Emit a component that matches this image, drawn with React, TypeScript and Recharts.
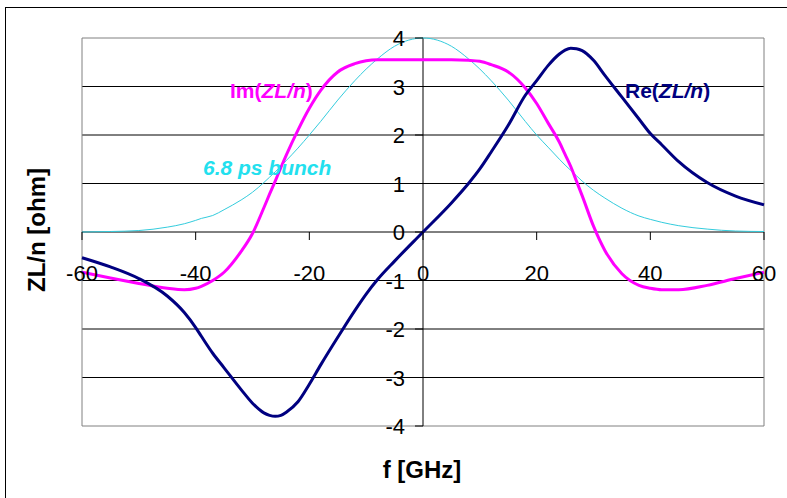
import { LineChart, Line, XAxis, YAxis, CartesianGrid, ReferenceLine, ReferenceArea } from 'recharts';

document.body.style.margin = '0';

// frequency grid [GHz]
const freq = [
  -60, -55, -50, -45, -42, -40, -39, -37, -35, -32, -30, -28, -27, -26, -25, -24, -22, -20, -18, -15, -12, -10, -8, -5, 0,
  5, 8, 10, 12, 15, 18, 20, 22, 24, 25, 26, 27, 28, 30, 32, 35, 38, 40, 42, 45, 50, 55, 60,
];

// Re(ZL/n) [ohm]
const reZ = [
  -0.53, -0.72, -0.96, -1.32, -1.66, -1.97, -2.15, -2.5, -2.8, -3.25, -3.53, -3.73, -3.78, -3.8, -3.78, -3.71, -3.5, -3.14, -2.74, -2.17, -1.62, -1.28, -0.98, -0.6, 0,
  0.6, 1.0, 1.3, 1.65, 2.2, 2.82, 3.12, 3.43, 3.67, 3.75, 3.79, 3.78, 3.74, 3.54, 3.23, 2.78, 2.33, 2.03, 1.8, 1.45, 1.02, 0.74, 0.56,
];

// Im(ZL/n) [ohm]
const imZ = [
  -0.83, -0.95, -1.06, -1.16, -1.19, -1.16, -1.12, -1.0, -0.83, -0.4, -0.03, 0.5, 0.78, 1.05, 1.33, 1.6, 2.1, 2.55, 2.92, 3.3, 3.47, 3.53, 3.55, 3.55, 3.55,
  3.55, 3.54, 3.52, 3.45, 3.3, 2.97, 2.65, 2.25, 1.85, 1.6, 1.35, 1.05, 0.75, 0.12, -0.38, -0.86, -1.1, -1.16, -1.19, -1.19, -1.1, -0.96, -0.83,
];

// 6.8 ps bunch spectrum (arb. units)
const bunch = [
  0, 0.01, 0.03, 0.1, 0.17, 0.24, 0.28, 0.34, 0.46, 0.66, 0.82, 1.02, 1.13, 1.24, 1.36, 1.48, 1.73, 2.0, 2.28, 2.72, 3.12, 3.36, 3.57, 3.83, 4.0,
  3.83, 3.57, 3.36, 3.12, 2.72, 2.28, 2.0, 1.75, 1.5, 1.38, 1.27, 1.16, 1.05, 0.86, 0.7, 0.49, 0.33, 0.26, 0.2, 0.13, 0.06, 0.02, 0.01,
];

const xTicks = [-60, -40, -20, 0, 20, 40, 60];
const yTicks = [-4, -3, -2, -1, 0, 1, 2, 3, 4];
const gridValues = [-3, -2, -1, 1, 2, 3];

const rows = freq.map((f, i) => ({ f, re: reZ[i], im: imZ[i], bunch: bunch[i] }));

const W = 787;
const H = 498;
const X_AXIS_H = 30;
const Y_AXIS_W = 60;
// plot box: left 82, right 764, top 38, bottom 426
const M = { top: 38, right: 23, bottom: 72 - X_AXIS_H, left: 82 - Y_AXIS_W };
// axes cross in the middle of the plot (f = 0, ZL/n = 0)
const axisY = 38 + (426 - 38) / 2;
const axisX = 82 + (764 - 82) / 2;

const FONT = "Arial, 'Liberation Sans', Helvetica, sans-serif";

const freqTick = (props: any) => {
  const { x, payload } = props;
  return (
    <g key={`ft-${payload.value}`}>
      <line x1={x} x2={x} y1={axisY} y2={axisY + 8} stroke="#000" />
      <text x={x} y={axisY + 49} textAnchor="middle" fontSize={22} fontFamily={FONT} fill="#000">
        {payload.value}
      </text>
    </g>
  );
};

const ohmTick = (props: any) => {
  const { y, payload } = props;
  return (
    <g key={`ot-${payload.value}`}>
      <line x1={axisX - 8} x2={axisX} y1={y} y2={y} stroke="#000" />
      <text x={axisX - 18} y={y + 8} textAnchor="end" fontSize={22} fontFamily={FONT} fill="#000">
        {payload.value}
      </text>
    </g>
  );
};

export default function App() {
  return (
    <div style={{ position: 'relative', width: W, height: H, overflow: 'hidden', background: '#fff' }}>
      {/* outer chart frame */}
      <div
        style={{
          position: 'absolute',
          left: 5,
          top: 7,
          width: 820,
          height: 520,
          border: '1.5px solid #000',
        }}
      />
      <LineChart width={W} height={H} data={rows} margin={M} style={{ position: 'absolute', left: 0, top: 0 }}>
        <CartesianGrid vertical={false} horizontalValues={gridValues} stroke="#000" strokeOpacity={1} />
        <ReferenceArea x1={-60} x2={60} y1={-4} y2={4} fill="none" stroke="#808080" strokeWidth={1} />
        <XAxis
          dataKey="f"
          type="number"
          domain={[-60, 60]}
          ticks={xTicks}
          interval={0}
          axisLine={false}
          tickLine={false}
          height={X_AXIS_H}
          tick={freqTick}
        />
        <YAxis
          type="number"
          domain={[-4, 4]}
          ticks={yTicks}
          interval={0}
          axisLine={false}
          tickLine={false}
          width={Y_AXIS_W}
          tick={ohmTick}
        />
        <ReferenceLine y={0} stroke="#000" strokeWidth={1} />
        <ReferenceLine x={0} stroke="#000" strokeWidth={1} />
        <Line type="monotone" dataKey="bunch" stroke="#33CCDD" strokeWidth={1} dot={false} isAnimationActive={false} />
        <Line type="monotone" dataKey="im" stroke="#FF00FF" strokeWidth={3} dot={false} isAnimationActive={false} />
        <Line type="monotone" dataKey="re" stroke="#000080" strokeWidth={3} dot={false} isAnimationActive={false} />
      </LineChart>

      {/* annotations and axis titles */}
      <svg width={W} height={H} style={{ position: 'absolute', left: 0, top: 0, pointerEvents: 'none' }}>
        <text x={230} y={98} fontSize={21} fontWeight="bold" fontFamily={FONT} fill="#FF00FF">
          Im(<tspan fontStyle="italic">ZL/n</tspan>)
        </text>
        <text x={625} y={98} fontSize={21} fontWeight="bold" fontFamily={FONT} fill="#000080">
          Re(<tspan fontStyle="italic">ZL/n</tspan>)
        </text>
        <text x={203} y={175} fontSize={21} fontWeight="bold" fontStyle="italic" fontFamily={FONT} fill="#22E0EE">
          6.8 ps bunch
        </text>
        <text
          x={45}
          y={230}
          transform="rotate(-90, 45, 230)"
          textAnchor="middle"
          fontSize={24}
          fontWeight="bold"
          fontFamily={FONT}
          fill="#000"
        >
          ZL/n [ohm]
        </text>
        <text x={422} y={478} textAnchor="middle" fontSize={24} fontWeight="bold" fontFamily={FONT} fill="#000">
          f [GHz]
        </text>
      </svg>
    </div>
  );
}
